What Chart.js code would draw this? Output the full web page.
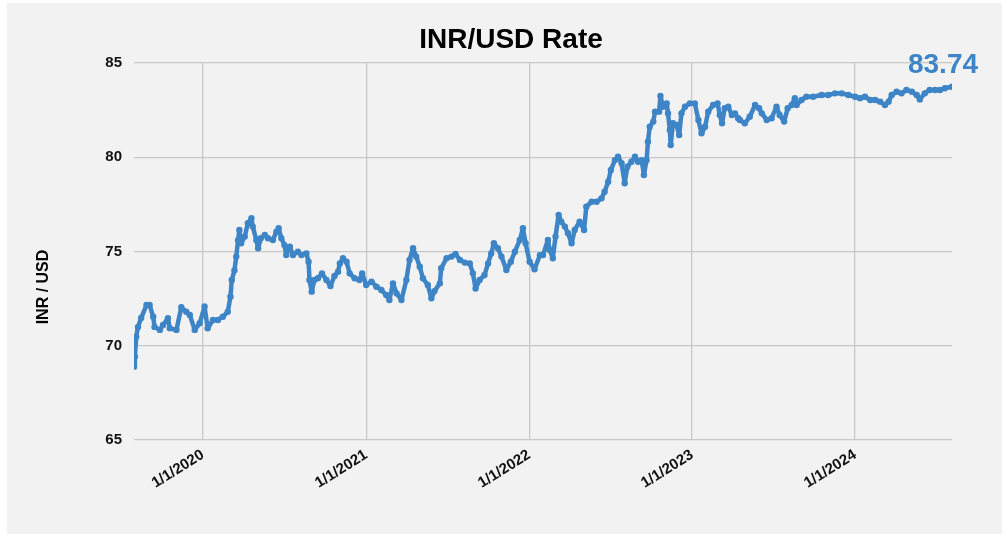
<!DOCTYPE html>
<html>
<head>
<meta charset="utf-8">
<script src="https://cdn.jsdelivr.net/npm/chart.js@4.4.1/dist/chart.umd.min.js"></script>
<style>
  html, body { margin: 0; padding: 0; background: #fff; }
  #wrap { width: 1005px; height: 535px; position: relative; }
</style>
</head>
<body>
<div id="wrap"><canvas id="c" width="1005" height="535"></canvas></div>
<script>
/* ── Data ── */
const dates = [
  '2019-07-31','2019-08-02','2019-08-05','2019-08-09','2019-08-16','2019-08-28','2019-09-04','2019-09-12','2019-09-15','2019-09-27',
  '2019-10-04','2019-10-15','2019-10-19','2019-11-03','2019-11-14','2019-11-25','2019-12-03','2019-12-14','2019-12-25','2020-01-05',
  '2020-01-12','2020-01-24','2020-02-04','2020-02-15','2020-02-26','2020-03-03','2020-03-06','2020-03-12','2020-03-16','2020-03-20',
  '2020-03-23','2020-03-27','2020-04-04','2020-04-11','2020-04-19','2020-04-22','2020-04-30','2020-05-04','2020-05-10','2020-05-19',
  '2020-05-26','2020-06-06','2020-06-14','2020-06-19','2020-06-25','2020-07-02','2020-07-06','2020-07-14','2020-07-21','2020-08-01',
  '2020-08-09','2020-08-20','2020-08-25','2020-08-27','2020-09-01','2020-09-07','2020-09-15','2020-09-24','2020-10-04','2020-10-13',
  '2020-10-22','2020-10-30','2020-11-03','2020-11-10','2020-11-18','2020-11-25','2020-12-06','2020-12-17','2020-12-23','2021-01-01',
  '2021-01-13','2021-01-24','2021-02-04','2021-02-15','2021-02-22','2021-03-02','2021-03-10','2021-03-21','2021-04-01','2021-04-08',
  '2021-04-16','2021-04-23','2021-05-01','2021-05-08','2021-05-19','2021-05-27','2021-06-03','2021-06-15','2021-06-18','2021-06-30',
  '2021-07-11','2021-07-20','2021-07-30','2021-08-10','2021-08-21','2021-08-28','2021-09-03','2021-09-12','2021-09-23','2021-10-01',
  '2021-10-08','2021-10-14','2021-10-23','2021-10-31','2021-11-11','2021-11-21','2021-11-30','2021-12-11','2021-12-18','2021-12-24',
  '2022-01-02','2022-01-13','2022-01-25','2022-02-01','2022-02-12','2022-02-16','2022-02-23','2022-03-01','2022-03-08','2022-03-14',
  '2022-03-22','2022-03-29','2022-04-06','2022-04-13','2022-04-24','2022-05-04','2022-05-09','2022-05-21','2022-06-01','2022-06-12',
  '2022-06-19','2022-06-27','2022-07-03','2022-07-12','2022-07-19','2022-07-27','2022-08-03','2022-08-09','2022-08-18','2022-08-26',
  '2022-09-02','2022-09-10','2022-09-15','2022-09-21','2022-09-24','2022-09-28','2022-10-06','2022-10-10','2022-10-19','2022-10-22',
  '2022-10-28','2022-11-05','2022-11-08','2022-11-12','2022-11-14','2022-11-19','2022-11-27','2022-12-03','2022-12-08','2022-12-16',
  '2022-12-27','2023-01-07','2023-01-15','2023-01-22','2023-01-30','2023-02-06','2023-02-17','2023-02-27','2023-03-04','2023-03-09',
  '2023-03-15','2023-03-23','2023-03-31','2023-04-07','2023-04-14','2023-04-18','2023-04-29','2023-05-10','2023-05-22','2023-05-31',
  '2023-06-06','2023-06-17','2023-06-28','2023-07-09','2023-07-16','2023-07-26','2023-08-03','2023-08-12','2023-08-19','2023-08-23',
  '2023-09-03','2023-09-14','2023-09-29','2023-10-18','2023-11-02','2023-11-17','2023-12-02','2023-12-17','2024-01-01','2024-01-12',
  '2024-01-23','2024-02-04','2024-02-15','2024-02-26','2024-03-08','2024-03-16','2024-03-23','2024-04-03','2024-04-14','2024-04-25',
  '2024-05-07','2024-05-18','2024-05-25','2024-06-05','2024-06-16','2024-06-28','2024-07-09','2024-07-20','2024-08-05'
];
const rates = [
  68.89,69.42,70.48,71.00,71.47,72.16,72.16,71.54,71.00,70.84,
  71.10,71.46,70.93,70.84,72.04,71.80,71.63,70.84,71.19,72.08,
  70.93,71.37,71.37,71.54,71.80,72.60,73.49,74.00,74.73,75.60,
  76.14,75.44,75.79,76.50,76.76,76.32,75.61,75.17,75.70,75.88,
  75.70,75.61,76.05,76.23,75.70,75.34,74.81,75.26,74.81,74.99,
  74.81,74.90,74.46,73.49,72.87,73.49,73.58,73.84,73.49,73.17,
  73.70,73.93,74.37,74.64,74.46,73.84,73.58,73.49,73.84,73.22,
  73.40,73.13,72.96,72.69,72.43,73.31,72.78,72.43,73.49,74.55,
  75.17,74.73,74.19,73.58,73.22,72.52,72.90,73.31,74.11,74.64,
  74.73,74.87,74.55,74.41,74.37,73.84,73.04,73.49,73.75,74.37,
  74.90,75.44,75.17,74.73,74.02,74.46,74.99,75.61,76.23,75.44,
  74.46,74.06,74.80,74.81,75.61,75.08,74.64,75.79,76.94,76.58,
  76.32,75.97,75.44,76.14,76.58,76.14,77.38,77.64,77.64,77.82,
  78.17,78.70,79.32,79.85,80.03,79.68,78.62,79.50,79.76,80.03,
  79.76,79.85,79.06,79.85,80.82,81.62,81.89,82.42,82.42,83.25,
  82.68,82.86,82.33,81.45,80.65,81.80,81.71,81.18,82.33,82.68,
  82.86,82.86,81.98,81.27,81.62,82.42,82.77,82.86,82.24,81.80,
  82.60,82.68,82.24,82.33,82.07,81.98,81.80,82.15,82.77,82.60,
  82.33,81.98,82.07,82.68,82.24,81.89,82.60,82.77,83.13,82.77,
  83.04,83.21,83.21,83.30,83.30,83.39,83.39,83.30,83.21,83.13,
  83.21,83.04,83.04,82.95,82.77,82.95,83.30,83.48,83.39,83.57,
  83.48,83.30,83.07,83.39,83.57,83.57,83.57,83.66,83.74
];
const tickDates  = ['2020-01-01','2021-01-01','2022-01-01','2023-01-01','2024-01-01'];
const tickLabels = ['1/1/2020','1/1/2021','1/1/2022','1/1/2023','1/1/2024'];
const yMin = 65, yMax = 85, yStep = 5;
const chartTitle = 'INR/USD Rate';
const yTitle = 'INR / USD';

/* ── Helpers ── */
const DAY = 864e5;
const dayNum = s => {
  const [y, m, d] = s.split('-').map(Number);
  return (Date.UTC(y, m - 1, d) - Date.UTC(2020, 0, 1)) / DAY;
};
const points  = dates.map((d, i) => ({ x: dayNum(d), y: rates[i] }));
const tickPos = tickDates.map(dayNum);

const BLUE = '#3d85c6';
const FONT = "'Liberation Sans', Arial, sans-serif";

/* ── Background panel ── */
const framePlugin = {
  id: 'frame',
  beforeDraw(chart) {
    const ctx = chart.ctx;
    ctx.save();
    ctx.fillStyle = '#ffffff';
    ctx.fillRect(0, 0, chart.width, chart.height);
    ctx.fillStyle = '#f2f2f2';
    ctx.fillRect(7, 3, chart.width - 10, chart.height - 4);
    ctx.restore();
  }
};

/* ── Title, axis title, last value label ── */
const textPlugin = {
  id: 'texts',
  afterDraw(chart) {
    const ctx = chart.ctx;
    ctx.save();
    ctx.textAlign = 'center';
    ctx.textBaseline = 'middle';

    ctx.fillStyle = '#000';
    ctx.font = `bold 28px ${FONT}`;
    ctx.fillText(chartTitle, 511, 40);

    ctx.save();
    ctx.translate(44, 287);
    ctx.rotate(-Math.PI / 2);
    ctx.font = `bold 16px ${FONT}`;
    ctx.fillText(yTitle, 0, 0);
    ctx.restore();

    const meta = chart.getDatasetMeta(0);
    const last = meta.data[meta.data.length - 1];
    ctx.fillStyle = BLUE;
    ctx.font = `bold 28px ${FONT}`;
    ctx.fillText(rates[rates.length - 1].toFixed(2), last.x - 9, last.y - 21);
    ctx.restore();
  }
};

/* ── Chart ── */
new Chart(document.getElementById('c'), {
  type: 'line',
  data: {
    datasets: [{
      data: points,
      borderColor: BLUE,
      borderWidth: 4.5,
      borderJoinStyle: 'round',
      borderCapStyle: 'round',
      backgroundColor: BLUE,
      pointRadius: 3.2,
      pointBorderWidth: 0,
      pointBackgroundColor: BLUE,
      tension: 0,
      fill: false
    }]
  },
  options: {
    responsive: false,
    animation: false,
    devicePixelRatio: 1,
    layout: { padding: { left: 0, right: 53, top: 63, bottom: 0 } },
    plugins: { legend: { display: false }, tooltip: { enabled: false } },
    scales: {
      x: {
        type: 'linear',
        min: points[0].x,
        max: points[points.length - 1].x,
        afterBuildTicks: s => { s.ticks = tickPos.map(v => ({ value: v })); },
        afterFit: s => { s.height = 95; },
        ticks: {
          autoSkip: false,
          minRotation: 32,
          maxRotation: 32,
          padding: 6,
          color: '#111',
          font: { family: FONT, size: 15, weight: 'bold' },
          callback: (v, i) => tickLabels[i]
        },
        grid: { color: '#c8c8c8', lineWidth: 1.3, drawTicks: false },
        border: { display: false }
      },
      y: {
        min: yMin,
        max: yMax,
        afterFit: s => { s.width = 134; },
        ticks: {
          stepSize: yStep,
          padding: 12,
          color: '#111',
          font: { family: FONT, size: 15, weight: 'bold' }
        },
        grid: { color: '#c8c8c8', lineWidth: 1.3, drawTicks: false },
        border: { display: false }
      }
    }
  },
  plugins: [framePlugin, textPlugin]
});
</script>
</body>
</html>
